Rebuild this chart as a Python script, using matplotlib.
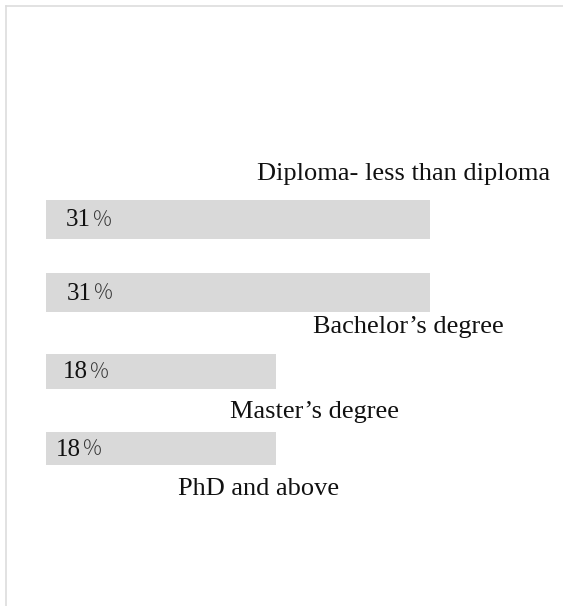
import matplotlib
matplotlib.use("Agg")
import matplotlib.pyplot as plt
from matplotlib.lines import Line2D

# data: shares of respondents by education level (percent)
levels = ["Diploma- less than diploma", "Bachelor\u2019s degree", "Master\u2019s degree", "PhD and above"]
shares = [31.25, 31.25, 18.75, 18.75]

# layout (pixels, from top-left of the 563x606 picture)
W, H = 563, 606
bar_left = 45.5
px_per_pct = 12.3
bar_y = [219.5, 292.5, 371, 448.5]
bar_h = [39, 39, 35, 33]
num_x = [66, 67, 63, 56]
label_xy = [(404, 180), (408, 333), (315, 418), (259, 495)]

fig = plt.figure(figsize=(W / 100, H / 100), dpi=100)

ax = fig.add_axes([bar_left / W, 0, 1 - bar_left / W, 1])
ax.set_xlim(0, (W - bar_left) / px_per_pct)
ax.set_ylim(H, 0)
ax.axis("off")
ax.barh(bar_y, shares, height=bar_h, left=0, color="#d9d9d9")


def fx(px):
    return px / W


def fy(py):
    return 1 - py / H


for i, v in enumerate(shares):
    base = fy(bar_y[i] + 7)
    t = fig.text(fx(num_x[i]), base, str(int(v)), family="Liberation Serif",
                 fontsize=18, va="baseline", ha="left", color="#111111")
    ax.annotate("\uff05", xy=(1, base), xycoords=(t, "figure fraction"), xytext=(0.3, 0),
                textcoords="offset points", family="Noto Sans CJK JP", fontsize=15,
                fontweight="light", va="baseline", ha="left", color="#333333")

for name, (lx, ly) in zip(levels, label_xy):
    fig.text(fx(lx), fy(ly), name, family="Liberation Serif", fontsize=19,
             ha="center", va="baseline", color="#111111")

# light frame lines at top and left
fig.add_artist(Line2D([fx(6), 1], [fy(5.5), fy(5.5)], transform=fig.transFigure, color="#dddddd", lw=1.2))
fig.add_artist(Line2D([fx(6), fx(6)], [fy(5.5), 0], transform=fig.transFigure, color="#dddddd", lw=1.2))

fig.savefig("out.png", dpi=100)
